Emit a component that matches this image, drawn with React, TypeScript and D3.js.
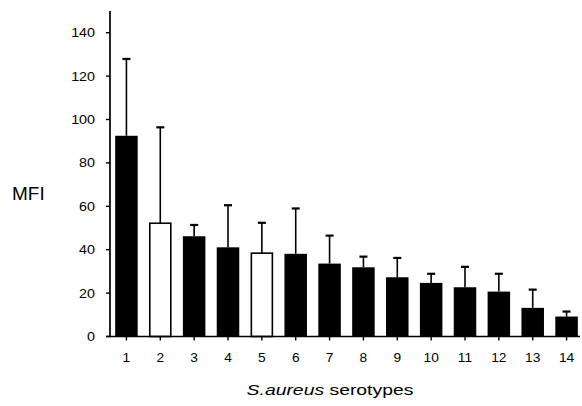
import React from 'react';
import * as d3 from 'd3';

// serotype number, mean MFI, upper end of the error bar
const serotypes = ['1', '2', '3', '4', '5', '6', '7', '8', '9', '10', '11', '12', '13', '14'];
const mfiValues = [92.5, 52.2, 46.2, 41.1, 38.4, 38.1, 33.6, 31.9, 27.3, 24.7, 22.7, 20.7, 13.2, 9.2];
const errorTops = [127.9, 96.4, 51.4, 60.5, 52.4, 59.0, 46.5, 36.8, 36.2, 28.9, 32.1, 28.9, 21.6, 11.5];
const openBars = ['2', '5'];
const yTicks = [0, 20, 40, 60, 80, 100, 120, 140];

const width = 582;
const height = 406;

const App: React.FC = () => {
  const x = d3.scaleBand<string>()
    .domain(serotypes)
    .range([109.5, 583.5])
    .paddingInner(0.335)
    .paddingOuter(0.1675);

  const y = d3.scaleLinear()
    .domain([0, 150])
    .range([336.5, 11]);

  const font = '"Liberation Sans", Arial, sans-serif';
  const cap = 8;

  return (
    <svg width={width} height={height} style={{ position: 'absolute', left: 0, top: 0, background: '#fff' }}>
      {/* bars */}
      {serotypes.map((s, i) => {
        const open = openBars.includes(s);
        return (
          <rect
            key={'b' + s}
            x={x(s)! + (open ? 0.75 : 0)}
            y={y(mfiValues[i])}
            width={x.bandwidth() - (open ? 1.5 : 0)}
            height={y(0) - y(mfiValues[i])}
            fill={open ? '#fff' : '#000'}
            stroke={open ? '#000' : 'none'}
            strokeWidth={1.6}
          />
        );
      })}

      {/* error bars, upper half only */}
      {serotypes.map((s, i) => {
        const cx = x(s)! + x.bandwidth() / 2;
        return (
          <g key={'e' + s} stroke="#000">
            <line x1={cx} x2={cx} y1={y(mfiValues[i])} y2={y(errorTops[i])} strokeWidth={1.6} />
            <line x1={cx - cap / 2} x2={cx + cap / 2} y1={y(errorTops[i])} y2={y(errorTops[i])} strokeWidth={2.2} />
          </g>
        );
      })}

      {/* y axis */}
      <line x1={110} x2={110} y1={y(150)} y2={y(0)} stroke="#000" strokeWidth={1.7} />
      {yTicks.map(t => (
        <g key={'y' + t}>
          <line x1={106} x2={110} y1={y(t)} y2={y(t)} stroke="#000" strokeWidth={1.4} />
          <text
            transform={`translate(95,${y(t)}) scale(1.1,1)`}
            dy="0.35em"
            textAnchor="end"
            fontFamily={font}
            fontSize={13}
            fill="#000"
          >
            {t}
          </text>
        </g>
      ))}

      {/* x axis */}
      <line x1={106} x2={580} y1={y(0)} y2={y(0)} stroke="#000" strokeWidth={1.7} />
      {serotypes.map(s => {
        const cx = x(s)! + x.bandwidth() / 2;
        return (
          <g key={'x' + s}>
            <line x1={cx} x2={cx} y1={y(0)} y2={y(0) + 4} stroke="#000" strokeWidth={1.4} />
            <text
              transform={`translate(${cx},362) scale(1.1,1)`}
              textAnchor="middle"
              fontFamily={font}
              fontSize={12.5}
              fill="#000"
            >
              {s}
            </text>
          </g>
        );
      })}

      {/* axis titles */}
      <text x={12} y={200} fontFamily={font} fontSize={19} fill="#000">MFI</text>
      <text
        transform="translate(330,395) scale(1.25,1)"
        textAnchor="middle"
        fontFamily={font}
        fontSize={15.5}
        fill="#000"
      >
        <tspan fontStyle="italic">S.aureus</tspan> serotypes
      </text>
    </svg>
  );
};

export default App;
